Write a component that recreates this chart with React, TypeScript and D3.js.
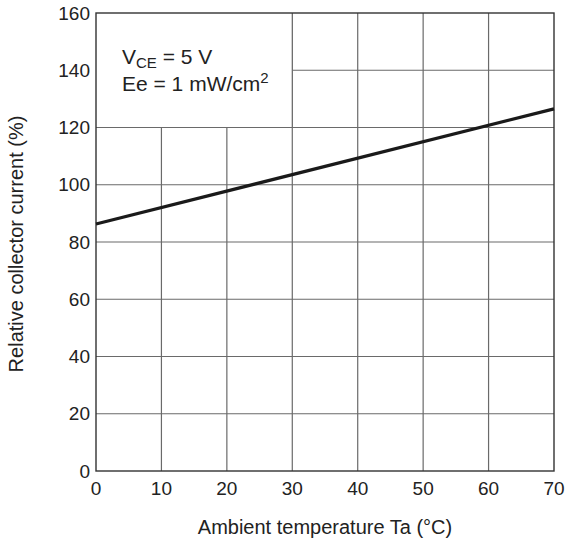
import * as d3 from "d3";
import { useEffect, useRef } from "react";

// ambient temperature Ta (°C) vs relative collector current (%)
const temps = [0, 70];
const relCurrent = [86.3, 126.5];
const xTicks = [0, 10, 20, 30, 40, 50, 60, 70];
const yTicks = [0, 20, 40, 60, 80, 100, 120, 140, 160];

export default function App() {
  const gRef = useRef<SVGGElement>(null);

  const margin = { top: 13, right: 17, bottom: 81, left: 96 },
    svgWidth = 571,
    svgHeight = 552,
    width = svgWidth - margin.left - margin.right,
    height = svgHeight - margin.top - margin.bottom;

  useEffect(() => {
    const g = d3.select(gRef.current);
    g.selectAll("*").remove();

    const x = d3.scaleLinear().domain([0, 70]).range([0, width]);
    const y = d3.scaleLinear().domain([0, 160]).range([height, 0]);
    const font = "'Liberation Sans', Arial, sans-serif";

    // grid
    const grid = g.append("g").attr("stroke", "#6a6a6a").attr("stroke-width", 1.2);
    grid
      .selectAll("line.v")
      .data(xTicks.slice(1, -1))
      .join("line")
      .attr("class", "v")
      .attr("x1", (d) => x(d))
      .attr("x2", (d) => x(d))
      .attr("y1", 0)
      .attr("y2", height);
    grid
      .selectAll("line.h")
      .data(yTicks.slice(1, -1))
      .join("line")
      .attr("class", "h")
      .attr("x1", 0)
      .attr("x2", width)
      .attr("y1", (d) => y(d))
      .attr("y2", (d) => y(d));

    // legend box hides grid in the top-left corner
    g.append("rect")
      .attr("x", 0)
      .attr("y", 0)
      .attr("width", x(30))
      .attr("height", y(120))
      .attr("fill", "#fff");
    g.append("path")
      .attr("d", `M${x(30)},0V${y(120)}H0`)
      .attr("fill", "none")
      .attr("stroke", "#6a6a6a")
      .attr("stroke-width", 1.2);

    // frame
    g.append("rect")
      .attr("width", width)
      .attr("height", height)
      .attr("fill", "none")
      .attr("stroke", "#333")
      .attr("stroke-width", 1.4);

    // curve
    const line = d3
      .line<number>()
      .x((d, i) => x(temps[i]))
      .y((d) => y(d));
    g.append("path")
      .datum(relCurrent)
      .attr("d", line)
      .attr("fill", "none")
      .attr("stroke", "#1a1a1a")
      .attr("stroke-width", 3.2);

    // tick labels
    g.selectAll("text.xt")
      .data(xTicks)
      .join("text")
      .attr("class", "xt")
      .attr("x", (d) => x(d))
      .attr("y", height + 24)
      .attr("text-anchor", "middle")
      .attr("font-family", font)
      .attr("font-size", 19)
      .attr("fill", "#222")
      .text((d) => d);
    g.selectAll("text.yt")
      .data(yTicks)
      .join("text")
      .attr("class", "yt")
      .attr("x", -6)
      .attr("y", (d) => y(d))
      .attr("dy", "0.35em")
      .attr("text-anchor", "end")
      .attr("font-family", font)
      .attr("font-size", 19)
      .attr("fill", "#222")
      .text((d) => d);

    // axis titles
    g.append("text")
      .attr("x", width / 2)
      .attr("y", height + 63)
      .attr("text-anchor", "middle")
      .attr("font-family", font)
      .attr("font-size", 20)
      .attr("fill", "#222")
      .text("Ambient temperature Ta (°C)");
    g.append("text")
      .attr("transform", `translate(${-73},${height / 2 + 2}) rotate(-90)`)
      .attr("text-anchor", "middle")
      .attr("font-family", font)
      .attr("font-size", 20)
      .attr("fill", "#222")
      .text("Relative collector current (%)");

    // conditions
    const t1 = g
      .append("text")
      .attr("x", 26)
      .attr("y", 51)
      .attr("font-family", font)
      .attr("font-size", 21)
      .attr("fill", "#222");
    t1.append("tspan").text("V");
    t1.append("tspan").attr("dy", 4).attr("font-size", 15).text("CE");
    t1.append("tspan").attr("dy", -4).text(" = 5 V");
    const t2 = g
      .append("text")
      .attr("x", 26)
      .attr("y", 78)
      .attr("font-family", font)
      .attr("font-size", 21)
      .attr("fill", "#222");
    t2.append("tspan").text("Ee = 1 mW/cm");
    t2.append("tspan").attr("dy", -8).attr("font-size", 15).text("2");
  }, []);

  return (
    <svg
      width={svgWidth}
      height={svgHeight}
      style={{ position: "absolute", left: 0, top: 0, background: "#fff" }}
    >
      <g ref={gRef} transform={`translate(${margin.left},${margin.top})`} />
    </svg>
  );
}
